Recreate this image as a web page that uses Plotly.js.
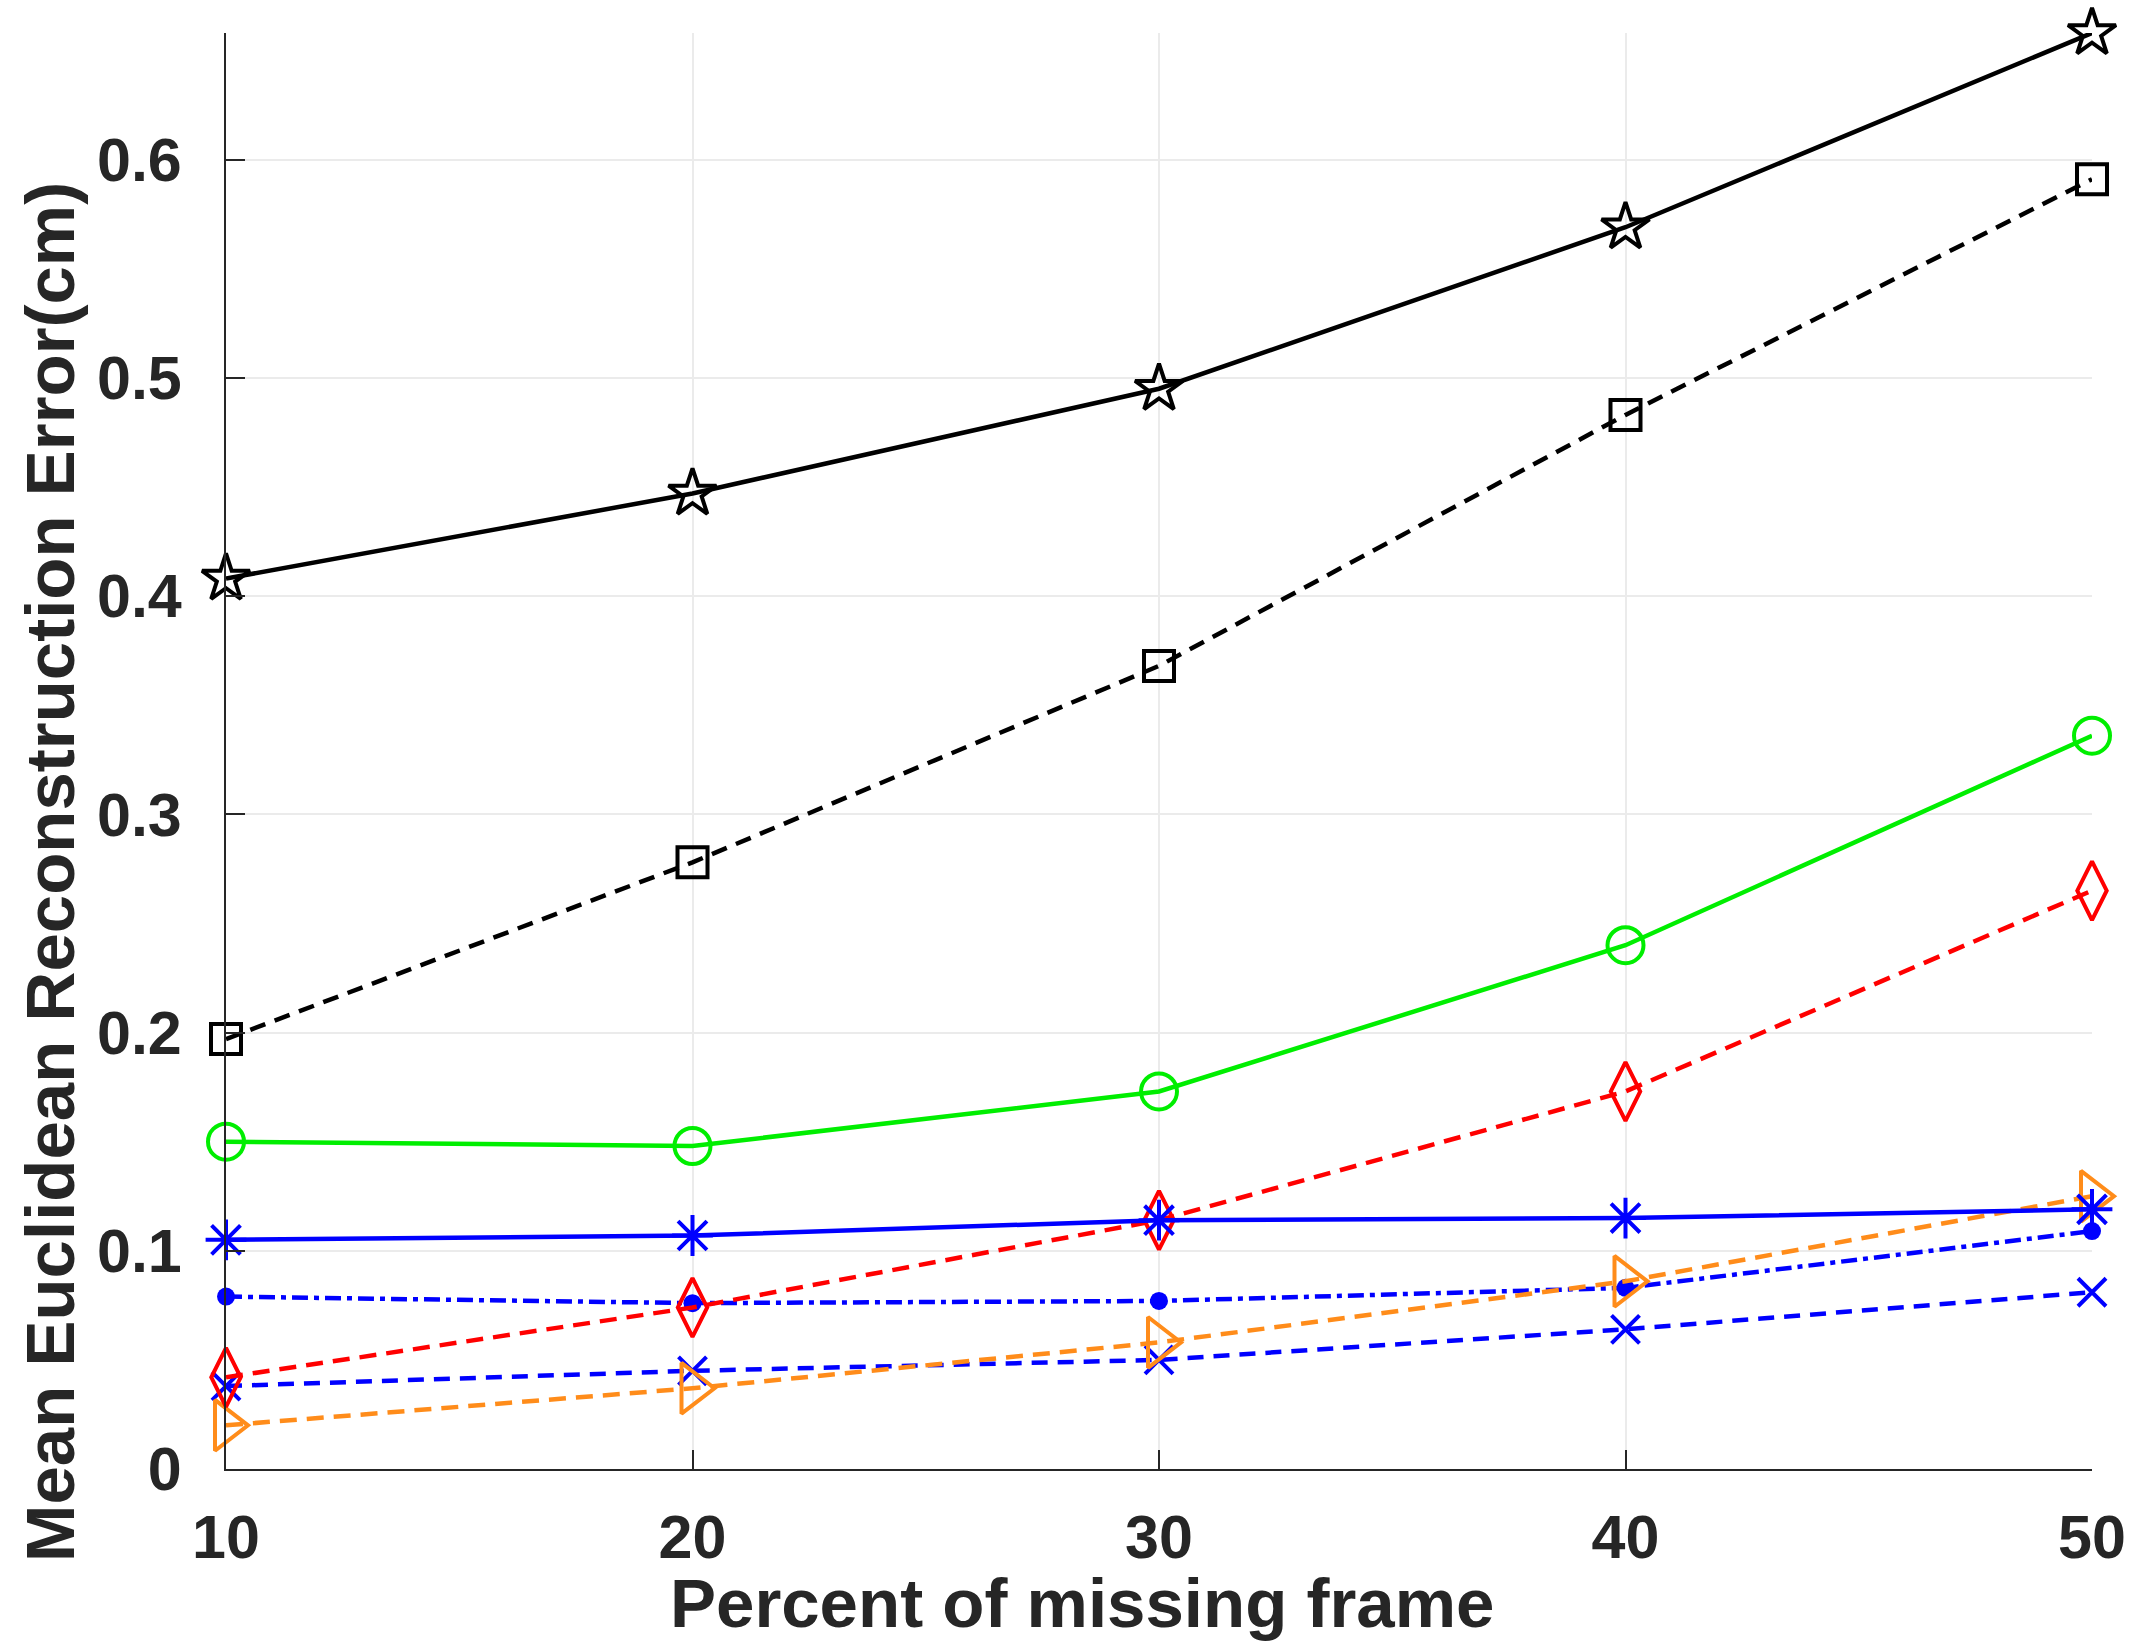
<!DOCTYPE html>
<html>
<head>
<meta charset="utf-8">
<script src="https://cdn.plot.ly/plotly-3.0.1.min.js"></script>
<style>
  html, body { margin: 0; padding: 0; background: #fff; }
  #chart { width: 2148px; height: 1652px; }
</style>
</head>
<body>
<div id="chart"></div>
<script>
// percent of missing frames
var missingPct = [10, 20, 30, 40, 50];

// mean euclidean reconstruction error (cm), one array per method
var blackStar = [0.408, 0.447, 0.495, 0.569, 0.658];
var blackSquare = [0.197, 0.278, 0.368, 0.483, 0.591];
var greenCircle = [0.150, 0.148, 0.173, 0.240, 0.336];
var redDiamond = [0.042, 0.074, 0.114, 0.173, 0.265];
var blueAsterisk = [0.105, 0.107, 0.114, 0.115, 0.119];
var blueDot = [0.079, 0.076, 0.077, 0.083, 0.109];
var blueCross = [0.038, 0.045, 0.050, 0.064, 0.081];
var orangeTriangle = [0.020, 0.037, 0.058, 0.086, 0.125];

var xTicks = [10, 20, 30, 40, 50];
var yTicks = [0, 0.1, 0.2, 0.3, 0.4, 0.5, 0.6];
var yTickText = ["0", "0.1", "0.2", "0.3", "0.4", "0.5", "0.6"];

var textColor = "#262626";
var fontFam = "Liberation Sans, Arial, Helvetica, sans-serif";

function series(y, color, dash, symbol, size, width) {
  return {
    x: missingPct,
    y: y,
    type: "scatter",
    mode: "lines+markers",
    cliponaxis: false,
    line: { color: color, width: 4.5, dash: dash },
    marker: {
      symbol: symbol,
      size: size,
      color: color,
      line: { color: color, width: width }
    },
    hoverinfo: "x+y"
  };
}

var plotdata = [
  series(blueCross, "#0000ff", "16px,10px", "x-thin-open", 28, 4),
  series(blueDot, "#0000ff", "16px,6px,5px,6px", "circle", 18, 0),
  series(orangeTriangle, "#ff8c1a", "17px,10px", "triangle-right-open", 44, 4),
  series(redDiamond, "#ff0000", "17px,10px", "diamond-tall-open", 42, 4),
  series(blueAsterisk, "#0000ff", "solid", "asterisk-open", 34, 4),
  series(greenCircle, "#00ee00", "solid", "circle-open", 36, 4),
  series(blackSquare, "#000000", "16px,10px", "square-open", 30, 4),
  series(blackStar, "#000000", "solid", "star-open", 36, 4)
];

var layout = {
  width: 2148,
  height: 1652,
  showlegend: false,
  paper_bgcolor: "#ffffff",
  plot_bgcolor: "#ffffff",
  margin: { l: 226, r: 56, t: 33, b: 183 },
  font: { family: fontFam, color: textColor, size: 61, weight: "bold" },
  xaxis: {
    range: [10, 50],
    tickvals: xTicks,
    ticktext: xTicks.map(String),
    ticks: "inside",
    ticklen: 19,
    tickwidth: 2,
    tickcolor: textColor,
    showline: true,
    linecolor: textColor,
    linewidth: 2,
    showgrid: true,
    gridcolor: "#ebebeb",
    gridwidth: 2,
    zeroline: false,
    ticklabelstandoff: 14,
    tickfont: { family: fontFam, size: 61, color: textColor, weight: "bold" }
  },
  yaxis: {
    range: [0, 0.658],
    tickvals: yTicks,
    ticktext: yTickText,
    ticks: "inside",
    ticklen: 19,
    tickwidth: 2,
    tickcolor: textColor,
    showline: true,
    linecolor: textColor,
    linewidth: 2,
    showgrid: true,
    gridcolor: "#ebebeb",
    gridwidth: 2,
    zeroline: false,
    ticklabelstandoff: 30,
    tickfont: { family: fontFam, size: 61, color: textColor, weight: "bold" }
  },
  annotations: [
    {
      text: "Percent of missing frame",
      xref: "paper", yref: "paper",
      x: 0.4587, y: -0.094,
      xanchor: "center", yanchor: "middle",
      showarrow: false,
      font: { family: fontFam, size: 69, color: textColor, weight: "bold" }
    },
    {
      text: "Mean Euclidean Reconstruction Error(cm)",
      xref: "paper", yref: "paper",
      x: -0.0943, y: 0.4157,
      xanchor: "center", yanchor: "middle",
      textangle: -90,
      showarrow: false,
      font: { family: fontFam, size: 69, color: textColor, weight: "bold" }
    }
  ]
};

Plotly.newPlot("chart", plotdata, layout, { staticPlot: true });
</script>
</body>
</html>
